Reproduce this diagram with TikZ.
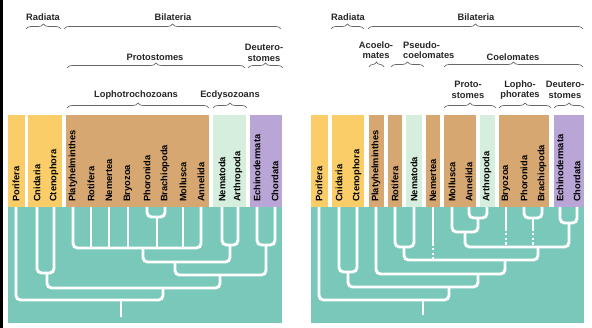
\documentclass[tikz,border=0pt]{standalone}
\usepackage{fontspec}
\setmainfont{Liberation Sans}
\usetikzlibrary{decorations.pathreplacing}
\definecolor{radiata}{RGB}{250,205,104}
\definecolor{lopho}{RGB}{214,167,113}
\definecolor{ecdyso}{RGB}{214,238,221}
\definecolor{deutero}{RGB}{186,166,214}
\definecolor{treebg}{RGB}{121,200,186}
\tikzset{
  taxon/.style={rotate=90,anchor=west,inner sep=0pt,
    font=\bfseries\fontsize{9.3}{10}\selectfont},
  group/.style={inner sep=0pt,align=center,text=black!85,
    font=\bfseries\fontsize{9.3}{10.5}\selectfont},
  grpbrace/.style={draw=black!60,line width=0.7pt,decorate,
    decoration={brace,amplitude=5pt}},
  branch/.style={draw=white,line width=2.9pt,rounded corners=4.5pt},
  unsure/.style={draw=white,line width=2.9pt,dash pattern=on 2.6pt off 2.2pt},
}
\begin{document}
\begin{tikzpicture}[x=1pt,y=-1pt]
  \useasboundingbox (0,0) rectangle (592,328);
  \fill[black] (0,0) rectangle (2.6,328);
  % left tree
  \fill[radiata] (8,115) rectangle (25,207);
  \fill[radiata] (28,115) rectangle (62,207);
  \fill[lopho] (66,115) rectangle (209,207);
  \fill[ecdyso] (213,115) rectangle (246,207);
  \fill[deutero] (250,115) rectangle (282,207);
  \fill[treebg] (8,207) rectangle (282,323);
  \foreach \x/\name/\id in {16/Porifera/apor,37/Cnidaria/acni,54/Ctenophora/acte,
      73/Platyhelminthes/apla,91/Rotifera/arot,109/Nemertea/anem,128/Bryozoa/abry,
      147/Phoronida/apho,165/Brachiopoda/abra,183/Mollusca/amol,201/Annelida/aann,
      222/Nematoda/anet,238/Arthropoda/aart,257/Echinodermata/aech,275/Chordata/acho}{
    \coordinate (\id) at (\x,207);
    \node[taxon] (\id-txt) at (\x,202) {\name};
  }
  \node[group] (arad-g) at (43,17) {Radiata};
  \draw[grpbrace] (26,29) -- (61,29);
  \node[group] (abil-g) at (173,17) {Bilateria};
  \draw[grpbrace] (64,29) -- (281,29);
  \node[group] (apro-g) at (155,57) {Protostomes};
  \draw[grpbrace] (67,68) -- (245,68);
  \node[group] (adeu-g) at (264,53) {Deutero-\\stomes};
  \draw[grpbrace] (248,68) -- (283,68);
  \node[group] (alop-g) at (136,95) {Lophotrochozoans};
  \draw[grpbrace] (67,108) -- (209,108);
  \node[group] (aecd-g) at (230,95) {Ecdysozoans};
  \draw[grpbrace] (213,108) -- (247,108);
  \draw[branch] (acni) |- (47,273) coordinate (arad) -| (acte);
  \draw[branch] (apho) |- (157,217) coordinate (aphb) -| (abra);
  \draw[branch] (apla) |- (143,248) coordinate (alop) -| (aann);
  \foreach \id in {arot,anem,abry,aphb,amol}
    \draw[branch] (\id) -- (\id |- alop);
  \draw[branch] (anet) |- (230,245) coordinate (aecd) -| (aart);
  \draw[branch] (alop) |- (175,262) coordinate (apro) -| (aecd);
  \draw[branch] (aech) |- (266,245) coordinate (adeu) -| (acho);
  \draw[branch] (apro) |- (220,275) coordinate (abil) -| (adeu);
  \draw[branch] (arad) |- (163,288) coordinate (aeum) -| (abil);
  \draw[branch] (apor) |- (121,300) coordinate (aroot) -| (aeum);
  \coordinate (abase) at (121,317);
  \draw[branch] (aroot) -- (abase);
  % right tree
  \fill[radiata] (311,115) rectangle (328,207);
  \fill[radiata] (332,115) rectangle (364,207);
  \fill[lopho] (369,115) rectangle (384,207);
  \fill[lopho] (388,115) rectangle (402,207);
  \fill[ecdyso] (406,115) rectangle (422,207);
  \fill[lopho] (426,115) rectangle (440,207);
  \fill[lopho] (444,115) rectangle (476,207);
  \fill[ecdyso] (480,115) rectangle (495,207);
  \fill[lopho] (499,115) rectangle (549,207);
  \fill[deutero] (554,115) rectangle (584,207);
  \fill[treebg] (311,207) rectangle (584,323);
  \foreach \x/\name/\id in {319/Porifera/bpor,339/Cnidaria/bcni,357/Ctenophora/bcte,
      376/Platyhelminthes/bpla,395/Rotifera/brot,414/Nematoda/bnet,433/Nemertea/bnem,
      452/Mollusca/bmol,469/Annelida/bann,487/Arthropoda/bart,506/Bryozoa/bbry,
      524/Phoronida/bpho,542/Brachiopoda/bbra,560/Echinodermata/bech,577/Chordata/bcho}{
    \coordinate (\id) at (\x,207);
    \node[taxon] (\id-txt) at (\x,202) {\name};
  }
  \node[group] (brad-g) at (348,17) {Radiata};
  \draw[grpbrace] (331,29) -- (364,29);
  \node[group] (bbil-g) at (476,17) {Bilateria};
  \draw[grpbrace] (368,29) -- (583,29);
  \node[group] (bace-g) at (376,50) {Acoelo-\\mates};
  \draw[grpbrace] (369,67) -- (384,67);
  \node[group,align=left,anchor=west] (bpse-g) at (403,50) {Pseudo-\\coelomates};
  \draw[grpbrace] (391,67) -- (424,67);
  \node[group] (bcoe-g) at (513,57) {Coelomates};
  \draw[grpbrace] (444,67) -- (583,67);
  \node[group] (bpro-g) at (468,90) {Proto-\\stomes};
  \draw[grpbrace] (444,108) -- (496,108);
  \node[group] (blph-g) at (520,90) {Lopho-\\phorates};
  \draw[grpbrace] (499,108) -- (551,108);
  \node[group] (bdeu-g) at (565,90) {Deutero-\\stomes};
  \draw[grpbrace] (554,108) -- (584,108);
  \draw[branch] (bcni) |- (348,272) coordinate (brad) -| (bcte);
  \draw[branch] (brot) |- (404,247) coordinate (bpse) -| (bnet);
  \draw[branch] (bann) |- (478,218) coordinate (bart2) -| (bart);
  \draw[branch] (bmol) |- (465,232) coordinate (bprt) -| (bart2);
  \draw[branch] (bpho) |- (533,218) coordinate (bphb) -| (bbra);
  \draw[branch] (bech) |- (569,223) coordinate (bdeu) -| (bcho);
  \draw[branch] (bprt) |- (538,247) coordinate (bcoe) -| (bdeu);
  \draw[branch] (bbry) -- (506,228) coordinate (bbryd);
  \draw[unsure] (bbryd) -- ([yshift=1.5pt]bbryd |- bcoe);
  \draw[branch] (bphb) -- (533,228) coordinate (bphbd);
  \draw[unsure] (bphbd) -- ([yshift=1.5pt]bphbd |- bcoe);
  \draw[branch] (bpse) |- (505,260) coordinate (bpsc) -| (bcoe);
  \draw[branch] (bnem) -- (433,243) coordinate (bnemd);
  \draw[unsure] (bnemd) -- (bnemd |- bpsc);
  \draw[branch] (bpla) |- (478,274) coordinate (bbil) -| (bpsc);
  \draw[branch] (brad) |- (449,287) coordinate (beum) -| (bbil);
  \draw[branch] (bpor) |- (423,300) coordinate (broot) -| (beum);
  \coordinate (bbase) at (423,315);
  \draw[branch] (broot) -- (bbase);
\end{tikzpicture}
\end{document}
